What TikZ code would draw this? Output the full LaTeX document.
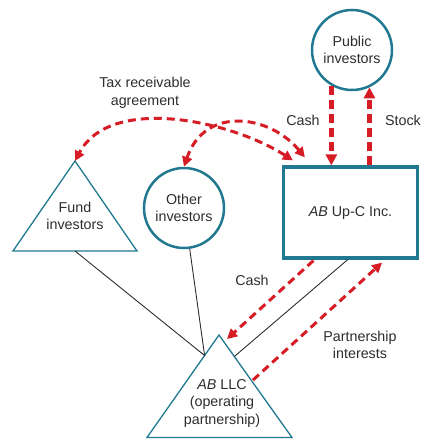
\documentclass[tikz,border=0pt]{standalone}
\usepackage{fontspec}
\setmainfont{Liberation Sans}
\usetikzlibrary{arrows.meta,calc}
\definecolor{teal}{RGB}{32,120,145}
\definecolor{flowred}{RGB}{214,28,36}
\definecolor{txt}{RGB}{45,45,45}
\begin{document}
\begin{tikzpicture}[x=1pt,y=-1pt,
  every node/.style={font=\fontsize{14.3}{17.5}\selectfont, text=txt, align=center, inner sep=0pt},
  holder/.style={draw=teal, line width=2.5pt, circle, minimum size=80pt},
  firm/.style={draw=teal, line width=3.2pt, minimum width=134pt, minimum height=91pt},
  tri/.style={draw=teal, line width=1.3pt, line join=miter},
  link/.style={draw=txt, line width=0.9pt},
  flow/.style={draw=flowred, line width=3pt, dash pattern=on 8pt off 5pt,
    -{Triangle[length=10pt,width=10pt]}},
  flowboth/.style={flow, {Triangle[length=10pt,width=10pt]}-{Triangle[length=10pt,width=10pt]}},
  flowv/.style={flow, line width=4.5pt, dash pattern=on 9pt off 5pt,
    -{Triangle[length=11pt,width=11pt]}}]
\useasboundingbox (0,0) rectangle (421,439);

% holders and entities
\node[holder] (pub) at (352,50) {Public\\investors};
\node[holder] (oth) at (184,208) {Other\\investors};
\node[firm] (upc) at (350.5,212.5) {\textit{AB} Up-C Inc.};

% fund investors triangle
\coordinate (fundtop) at (75,161);
\coordinate (fundL) at (13,251);
\coordinate (fundR) at (137,251);
\draw[tri] (fundtop) -- (fundL) -- (fundR) -- cycle;
\coordinate (fundbase) at ($(fundL)!0.5!(fundR)$);
\node (fundtxt) at (75,216) {Fund\\investors};

% operating partnership triangle
\coordinate (llctop) at (219,335);
\coordinate (llcL) at (147,437.5);
\coordinate (llcR) at (292,437.5);
\draw[tri] (llctop) -- (llcL) -- (llcR) -- cycle;
\node (llctxt) at (222,403) {\textit{AB} LLC\\(operating\\partnership)};
\coordinate (llcin1) at ($(llctop)!0.2!(llcL)$);
\coordinate (llcin2) at ($(llctop)!0.21!(llcR)$);
\coordinate (cashtip) at (227,339);
\coordinate (pistart) at (253,380);

% ownership lines
\draw[link] (fundbase) -- (llcin1);
\draw[link] (oth) -- (llcin1);
\draw[link] ($(upc.south west)!0.48!(upc.south east)$) -- (llcin2);

% cash and stock with public investors
\draw[flowv] (pub.240) -- (pub.240 |- upc.north);
\draw[flowv] (pub.295 |- upc.north) -- (pub.295);
\node (cash1) at (303,120) {Cash};
\node (stock) at (403,120) {Stock};

% tax receivable agreement
\coordinate (tra1) at ($(upc.north west)+(11,-5)$);
\coordinate (tra2) at ($(upc.north west)+(23,-8)$);
\draw[flowboth] (tra1) .. controls (230,120) and (110,95) .. (fundtop);
\draw[flowboth] (tra2) .. controls (270,115) and (205,105) .. (oth.north);
\node (tralabel) at (145,93) {Tax receivable\\agreement};

% flows between the company and the partnership
\draw[flow] ($(upc.south west)!0.23!(upc.south east)+(0,1)$) -- (cashtip);
\draw[flow] (pistart) -- ($(upc.south west)!0.73!(upc.south east)+(0,3)$);
\node (cash2) at (252,280) {Cash};
\node (pilabel) at (360,345) {Partnership\\interests};
\end{tikzpicture}
\end{document}
